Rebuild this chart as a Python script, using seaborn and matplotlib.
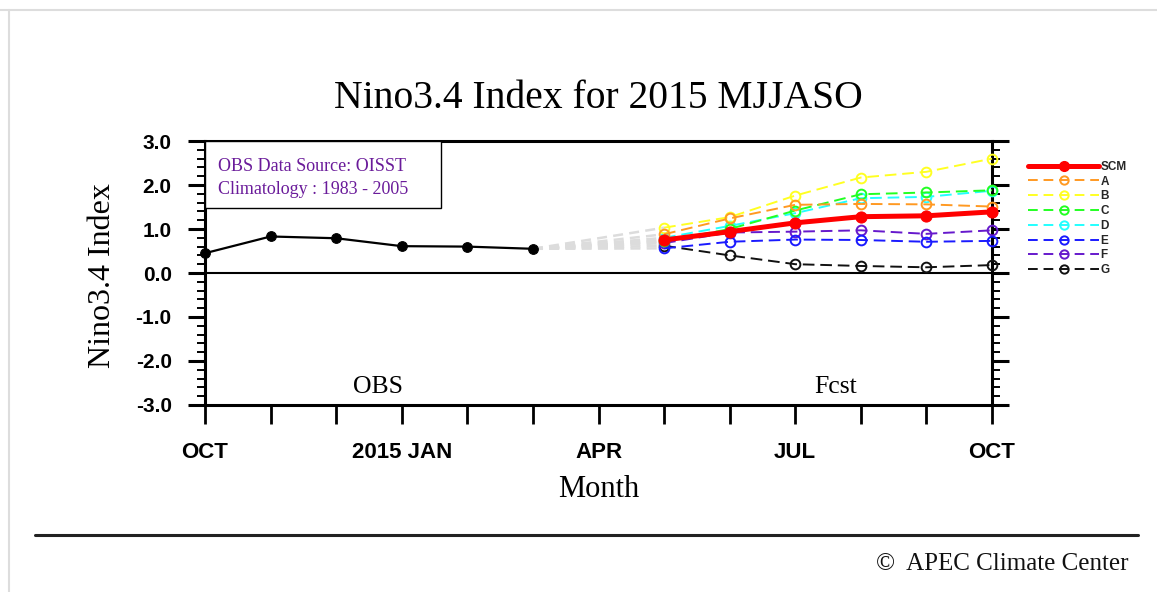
import matplotlib
matplotlib.use("Agg")
import matplotlib.pyplot as plt
import seaborn as sns
from matplotlib.lines import Line2D
from matplotlib.patches import Rectangle
from matplotlib.ticker import MultipleLocator

# -----------------------------
# Data
# -----------------------------
month_labels = ['OCT', '', '', '2015 JAN', '', '', 'APR', '', '', 'JUL', '', '', 'OCT']
month_idx = list(range(13))

obs_x = [0, 1, 2, 3, 4, 5]
obs_y = [0.45, 0.83, 0.79, 0.61, 0.60, 0.55]

fcst_x = [7, 8, 9, 10, 11, 12]
models = ['SCM', 'A', 'B', 'C', 'D', 'E', 'F', 'G']
scm = [0.75, 0.94, 1.14, 1.28, 1.30, 1.39]
model_a = [0.88, 1.24, 1.55, 1.57, 1.56, 1.51]
model_b = [1.03, 1.27, 1.76, 2.17, 2.30, 2.60]
model_c = [0.72, 1.00, 1.42, 1.79, 1.83, 1.88]
model_d = [0.80, 1.07, 1.36, 1.70, 1.73, 1.87]
model_e = [0.56, 0.71, 0.76, 0.75, 0.71, 0.73]
model_f = [0.68, 0.92, 0.94, 0.97, 0.89, 0.97]
model_g = [0.62, 0.40, 0.20, 0.16, 0.13, 0.18]
model_vals = [scm, model_a, model_b, model_c, model_d, model_e, model_f, model_g]
model_colors = ['#ff0000', '#ff9922', '#ffff22', '#22ff22', '#22ffff',
                '#1a1aff', '#6619cc', '#111111']

# -----------------------------
# Style
# -----------------------------
sns.set_theme(style='white')
plt.rcParams['font.family'] = ['Liberation Serif', 'DejaVu Serif']
serif = ['Liberation Serif', 'DejaVu Serif']
sans = ['Liberation Sans', 'DejaVu Sans']

fig = plt.figure(figsize=(11.57, 5.92), dpi=100)
ax = fig.add_axes([0.1772, 0.3159, 0.6802, 0.4459])

# grey connectors from last obs to first forecast month
for vals in model_vals:
    sns.lineplot(x=[obs_x[-1], fcst_x[0]], y=[obs_y[-1], vals[0]], ax=ax,
                 color='#dcdcdc', lw=1.8, dashes=False, linestyle=(0, (4, 2.5)),
                 zorder=2)

# observations
sns.lineplot(x=obs_x, y=obs_y, ax=ax, color='black', lw=1.6, marker='o',
             markersize=7, markeredgecolor='black', clip_on=False, zorder=5)

# model forecasts (drawn last-to-first so SCM sits on top)
for name, vals, col in list(zip(models, model_vals, model_colors))[::-1]:
    if name == 'SCM':
        sns.lineplot(x=fcst_x, y=vals, ax=ax, color=col, lw=3.6, marker='o',
                     markersize=8, markeredgecolor=col, clip_on=False, zorder=6)
    else:
        sns.lineplot(x=fcst_x, y=vals, ax=ax, color=col, lw=1.4,
                     linestyle=(0, (6, 3)), marker='o', markersize=7,
                     markerfacecolor='none', markeredgecolor=col,
                     markeredgewidth=1.4, clip_on=False, zorder=4)

ax.axhline(0, color='black', lw=1.5, zorder=3)

# axes, ticks
ax.set_xlim(0, 12)
ax.set_ylim(-3, 3)
ax.set_xticks(month_idx)
ax.set_xticklabels(month_labels, fontsize=16, fontweight='bold', family=sans)
ax.yaxis.set_major_locator(MultipleLocator(1.0))
ax.yaxis.set_minor_locator(MultipleLocator(0.2))
ax.set_yticks([-3, -2, -1, 0, 1, 2, 3])
ax.set_yticklabels(['-3.0', '-2.0', '-1.0', '0.0', '1.0', '2.0', '3.0'],
                   fontsize=15, fontweight='bold', family=sans)
ax.tick_params(axis='x', which='major', direction='out', length=14, width=2,
               pad=13, bottom=True, top=False, colors='black')
ax.tick_params(axis='y', which='major', direction='out', length=12, width=2.2,
               pad=12, left=True, right=True, colors='black')
ax.tick_params(axis='y', which='minor', direction='out', length=6, width=1.4,
               left=True, right=True, colors='black')
for sp in ax.spines.values():
    sp.set_linewidth(2.2)
    sp.set_color('black')

ax.set_title('Nino3.4 Index for 2015 MJJASO', fontsize=28.5, family=serif,
             y=1.125, pad=0, color='black')
ax.set_ylabel('Nino3.4 Index', fontsize=23, family=serif, color='black')
ax.yaxis.set_label_coords(-0.112, 0.49)
ax.set_xlabel('Month', fontsize=22, family=serif, color='black')
ax.xaxis.set_label_coords(0.5, -0.265)

# info box
ax.add_patch(Rectangle((0, 0.748), 0.30, 0.252, transform=ax.transAxes,
                       facecolor='white', edgecolor='black', lw=1.0, zorder=7))
ax.text(0.017, 0.885, 'OBS Data Source: OISST', transform=ax.transAxes,
        fontsize=13, family=serif, color='#6a1b9a', va='baseline', zorder=8)
ax.text(0.017, 0.80, 'Climatology : 1983 - 2005', transform=ax.transAxes,
        fontsize=13, family=serif, color='#6a1b9a', va='baseline', zorder=8)

ax.text(2.63, -2.73, 'OBS', fontsize=18.5, family=serif, ha='center',
        va='baseline', color='black')
ax.text(9.62, -2.73, 'Fcst', fontsize=18.5, family=serif, ha='center',
        va='baseline', color='black')

# legend outside on the right
handles = []
for name, col in zip(models, model_colors):
    if name == 'SCM':
        handles.append(Line2D([], [], color=col, lw=3.6, marker='o',
                              markersize=7))
    else:
        handles.append(Line2D([], [], color=col, lw=1.4, linestyle=(0, (5, 3)),
                              marker='o', markersize=6, markerfacecolor='none',
                              markeredgecolor=col, markeredgewidth=1.4))
leg = ax.legend(handles, models, loc='upper left', bbox_to_anchor=(1.04, 0.943),
                frameon=False, handlelength=6.0, handletextpad=0.1,
                labelspacing=0.235, borderaxespad=0,
                prop={'family': sans, 'weight': 'bold', 'size': 8.5})

# footer
fig.add_artist(Line2D([0.03, 0.984], [0.096, 0.096], color='#222222', lw=2.2,
                      transform=fig.transFigure))
fig.text(0.975, 0.038, '\u00a9  APEC Climate Center', fontsize=18, family=serif,
         ha='right', va='baseline', color='#111111')

# page border
fig.add_artist(Line2D([0.0, 1.0], [0.983, 0.983], color='#dddddd', lw=1.5,
                      transform=fig.transFigure))
fig.add_artist(Line2D([0.008, 0.008], [0.0, 0.983], color='#dddddd', lw=1.5,
                      transform=fig.transFigure))

fig.savefig('out.png', dpi=100)
